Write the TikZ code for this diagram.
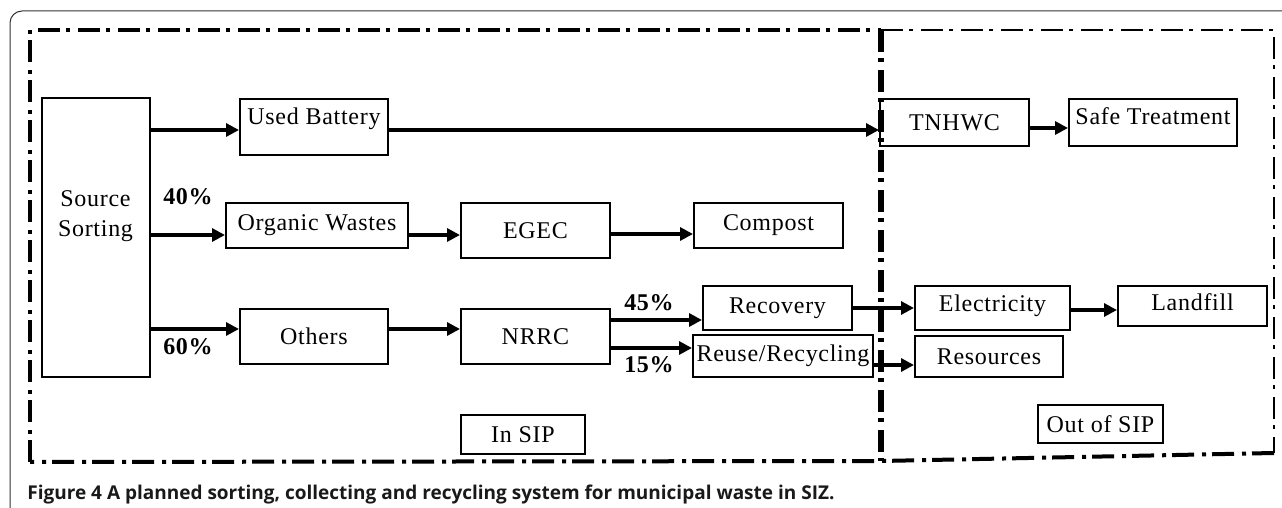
\documentclass[tikz,border=0pt]{standalone}
\usepackage{fontspec}
\setmainfont{Liberation Serif}[LetterSpace=3]
\newfontfamily\capfont{Open Sans}
\usepackage{tikz}
\usetikzlibrary{arrows.meta}

\tikzset{
  box/.style={draw, line width=1pt, inner sep=0pt, align=center,
    font=\fontsize{12}{15}\selectfont},
  arr/.style={line width=1.6pt, -{Triangle[length=6.5pt,width=6.5pt]}},
  pct/.style={font=\fontsize{12}{14}\selectfont\bfseries},
  border/.style={line width=2pt, dash pattern=on 11pt off 3pt on 2pt off 4pt}
}

\begin{document}
\begin{tikzpicture}[line cap=butt,line join=miter,x=0.5pt,y=-0.5pt]
                \useasboundingbox (0,0) rectangle (1282,508);
                % outer frame and caption
                \draw [line width=0.5pt, black!80, rounded corners=6pt] (10,508) -- (10,11) -- (1282,11);
                \node [anchor=base west, inner sep=0pt, font=\capfont\fontsize{9.5}{11}\selectfont\bfseries, black!90] (cap) at (27,499)
                    {Figure 4 A planned sorting, collecting and recycling system for municipal waste in SIZ.};
                % system borders
                \draw [border] (30,462) -- (30,30) -- (881,30);
                \draw [border, line width=1.4pt] (881,30) -- (1274,30) -- (1274,453);
                \draw [border] (1274,453) -- (881,461) -- (30,462);
                \draw [border, line width=2.6pt] (881,30) -- (881,461);
                % boxes
                \node [box, minimum width=54pt, minimum height=139pt, text depth=24pt] (src) at (95.5,237.5) {Source\\Sorting};
                \node [box, minimum width=74pt, minimum height=28pt, text depth=11pt] (bat) at (314,127) {Used Battery};
                \node [box, minimum width=91pt, minimum height=22.5pt] (org) at (317,225.5) {Organic Wastes};
                \node [box, minimum width=74.5pt, minimum height=27.5pt] (egec) at (535.5,230.5) {EGEC};
                \node [box, minimum width=74.5pt, minimum height=22.5pt] (comp) at (768.5,225.5) {Compost};
                \node [box, minimum width=74.5pt, minimum height=23.5pt] (tnhwc) at (954.5,122.5) {TNHWC};
                \node [box, minimum width=84pt, minimum height=23.5pt, text depth=6pt] (safe) at (1153,122.5) {Safe Treatment};
                \node [box, minimum width=74pt, minimum height=27.5pt] (oth) at (314,336.5) {Others};
                \node [box, minimum width=74.5pt, minimum height=27.5pt] (nrrc) at (535.5,336.5) {NRRC};
                \node [box, minimum width=74.5pt, minimum height=22pt] (rec) at (777.5,308) {Recovery};
                \node [box, minimum width=90pt, minimum height=21pt] (reuse) at (783,356) {Reuse/Recycling};
                \node [box, minimum width=77.5pt, minimum height=22pt, text depth=5pt] (elec) at (992.5,308) {Electricity};
                \node [box, minimum width=74.5pt, minimum height=20pt, text depth=4pt] (land) at (1192.5,306) {Landfill};
                \node [box, minimum width=74pt, minimum height=20.5pt] (res) at (989,356.5) {Resources};
                \node [box, minimum width=62pt, minimum height=19.5pt] (insip) at (523,434.5) {In SIP};
                \node [box, minimum width=62.5pt, minimum height=19pt] (outsip) at (1100.5,424) {Out of SIP};
                % flows
                \draw [arr] (src.east |- 0,130) -- (bat.west |- 0,130);
                \draw [arr] (bat.east |- 0,130) -- (tnhwc.west |- 0,130);
                \draw [arr] (tnhwc.east |- 0,128) -- (safe.west |- 0,128);
                \draw [arr] (src.east |- 0,235) -- (org.west |- 0,235);
                \draw [arr] (org.east |- 0,235) -- (egec.west |- 0,235);
                \draw [arr] (egec.east |- 0,234) -- (comp.west |- 0,234);
                \draw [arr] (src.east |- 0,329) -- (oth.west |- 0,329);
                \draw [arr] (oth.east |- 0,329) -- (nrrc.west |- 0,329);
                \draw [arr] (nrrc.east |- 0,320) -- (rec.west |- 0,320);
                \draw [arr] (nrrc.east |- 0,348) -- (reuse.west |- 0,348);
                \draw [arr] (rec.east |- 0,308) -- (elec.west |- 0,308);
                \draw [arr] (reuse.east |- 0,365) -- (res.west |- 0,365);
                \draw [arr] (elec.east |- 0,310) -- (land.west |- 0,310);
                % shares
                \node [pct] (p40) at (188,197) {40\%};
                \node [pct] (p60) at (188,347) {60\%};
                \node [pct] (p45) at (649,303) {45\%};
                \node [pct] (p15) at (649,365) {15\%};
\end{tikzpicture}
\end{document}
